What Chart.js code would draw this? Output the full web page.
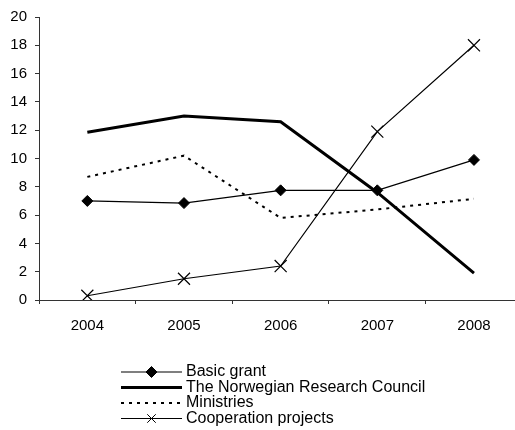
<!DOCTYPE html>
<html>
<head>
<meta charset="utf-8">
<script src="https://cdn.jsdelivr.net/npm/chart.js@4/dist/chart.umd.min.js"></script>
<style>
  html, body { margin: 0; padding: 0; background: #fff; overflow: hidden; }
  #fundingChart { display: block; }
</style>
</head>
<body>
<canvas id="fundingChart" width="532" height="430"></canvas>
<script>
// Data
const years = ['2004', '2005', '2006', '2007', '2008'];
const basicGrant = [7.0, 6.85, 7.75, 7.75, 9.9];
const researchCouncil = [11.85, 13.0, 12.6, 7.6, 1.9];
const ministries = [8.7, 10.2, 5.8, 6.4, 7.15];
const cooperation = [0.3, 1.5, 2.4, 11.9, 18.0];
const seriesNames = ['Basic grant', 'The Norwegian Research Council', 'Ministries', 'Cooperation projects'];

const FONT = { family: "'Liberation Sans', Arial, sans-serif", size: 15 };

// Legend drawn under the plot: a line sample with the marker, then the name
const lineLegend = {
    id: 'lineLegend',
    afterDraw(chart) {
        const ctx = chart.ctx;
        const x0 = 121, x1 = 182, top = 372, rowGap = 15.5;
        ctx.save();
        ctx.font = '16px ' + FONT.family;
        ctx.textBaseline = 'middle';
        chart.data.datasets.forEach((ds, i) => {
            const y = top + i * rowGap;
            ctx.beginPath();
            ctx.strokeStyle = ds.borderColor;
            ctx.lineWidth = ds.borderWidth;
            ctx.setLineDash(ds.borderDash || []);
            ctx.moveTo(x0, y);
            ctx.lineTo(x1, y);
            ctx.stroke();
            ctx.setLineDash([]);
            if (ds.pointRadius > 0) {
                ctx.fillStyle = '#000';
                ctx.strokeStyle = '#000';
                ctx.lineWidth = 1;
                Chart.helpers.drawPoint(ctx, {
                    pointStyle: ds.pointStyle,
                    radius: ds.pointStyle === 'crossRot' ? 6 : ds.pointRadius,
                    borderWidth: 1,
                    rotation: 0
                }, (x0 + x1) / 2, y);
            }
            ctx.fillStyle = '#000';
            ctx.fillText(ds.label, x1 + 4, y);
        });
        ctx.restore();
    }
};

const ctx = document.getElementById('fundingChart').getContext('2d');

new Chart(ctx, {
    type: 'line',
    data: {
        labels: years,
        datasets: [
            {
                label: seriesNames[0],
                data: basicGrant,
                borderColor: '#000',
                backgroundColor: '#000',
                borderWidth: 1.2,
                pointStyle: 'rectRot',
                pointRadius: 5.5,
                pointBorderWidth: 1,
                pointBackgroundColor: '#000',
                pointBorderColor: '#000'
            },
            {
                label: seriesNames[1],
                data: researchCouncil,
                borderColor: '#000',
                backgroundColor: '#000',
                borderWidth: 3,
                pointRadius: 0
            },
            {
                label: seriesNames[2],
                data: ministries,
                borderColor: '#000',
                backgroundColor: '#000',
                borderWidth: 2,
                borderDash: [3, 5],
                pointRadius: 0
            },
            {
                label: seriesNames[3],
                data: cooperation,
                borderColor: '#000',
                backgroundColor: '#000',
                borderWidth: 1.2,
                pointStyle: 'crossRot',
                pointRadius: 8.5,
                pointBorderWidth: 1.2,
                pointBorderColor: '#000'
            }
        ]
    },
    options: {
        responsive: false,
        animation: false,
        devicePixelRatio: 1,
        layout: { padding: { top: 14, left: 0, right: 0, bottom: 100 } },
        plugins: {
            legend: { display: false },
            tooltip: { enabled: false }
        },
        scales: {
            x: {
                offset: true,
                grid: {
                    display: true,
                    offset: true,
                    drawOnChartArea: false,
                    drawTicks: true,
                    tickLength: 4,
                    color: '#333'
                },
                border: { display: true, color: '#333', width: 1 },
                ticks: { color: '#000', font: FONT, padding: 13, maxRotation: 0 },
                afterFit(scale) { scale.height = 30; }
            },
            y: {
                min: 0,
                max: 20,
                grid: {
                    display: true,
                    drawOnChartArea: false,
                    drawTicks: true,
                    tickLength: 4,
                    color: '#333'
                },
                border: { display: true, color: '#333', width: 1 },
                ticks: { stepSize: 2, color: '#000', font: FONT, padding: 8 },
                afterFit(scale) { scale.width = 39; }
            }
        }
    },
    plugins: [lineLegend]
});
</script>
</body>
</html>
